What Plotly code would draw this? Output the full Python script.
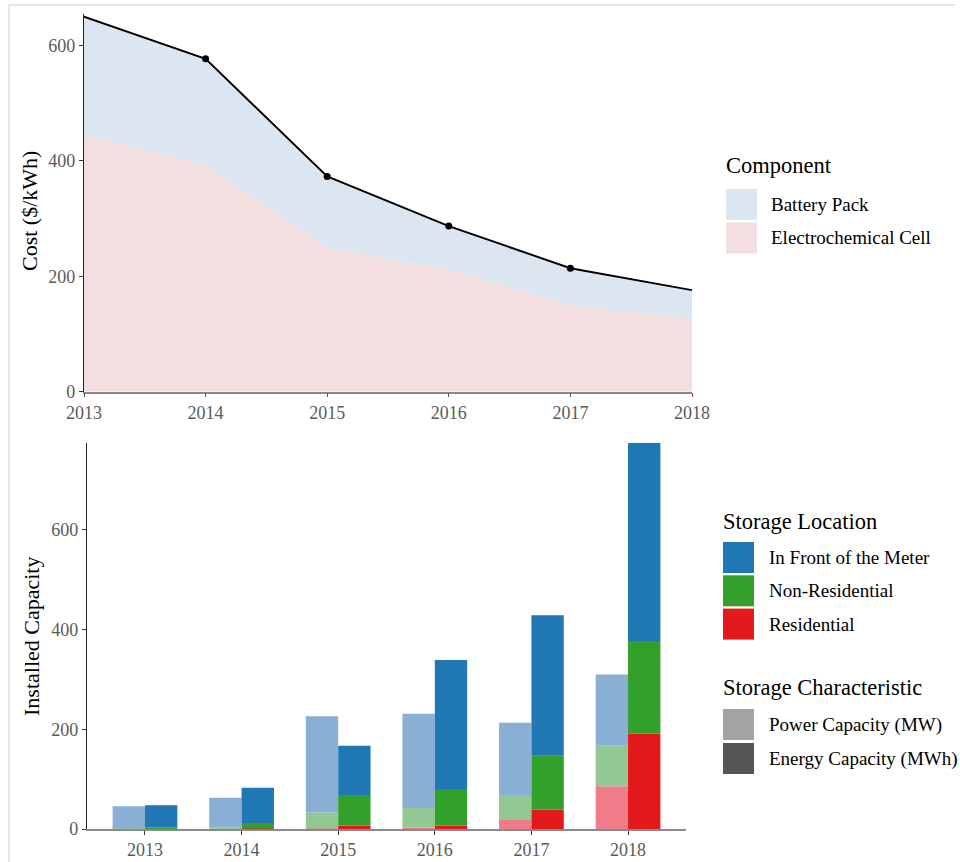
import plotly.graph_objects as go

# ---- Battery cost by component ($/kWh) ----
cost_years = [2013, 2014, 2015, 2016, 2017, 2018]
cell_cost = [445, 392, 250, 211, 150, 126]
pack_cost = [205, 185, 123, 76, 64, 50]
marker_years = [2014, 2015, 2016, 2017]

# ---- Installed storage capacity ----
cap_years = ["2013", "2014", "2015", "2016", "2017", "2018"]
power_res = [0.5, 0.5, 1, 3, 18, 86]
power_nonres = [1, 2, 32, 39, 50, 81]
power_ftm = [44, 60, 193, 189, 145, 143]
energy_res = [0.5, 1, 7, 7, 39, 191]
energy_nonres = [3, 11, 61, 73, 108, 186]
energy_ftm = [44, 71, 99, 259, 282, 398]

locations = ["In Front of the Meter", "Non-Residential", "Residential"]
characteristics = ["Power Capacity (MW)", "Energy Capacity (MWh)"]

# colours
PACK_COL = "#dce6f0"
CELL_COL = "#f4dfe0"
DARK = {"In Front of the Meter": "#1f78b4", "Non-Residential": "#33a02c", "Residential": "#e31a1c"}
LIGHT = {"In Front of the Meter": "#8aafd4", "Non-Residential": "#93c794", "Residential": "#ef7c88"}
CHAR_COL = {"Power Capacity (MW)": "#a3a3a3", "Energy Capacity (MWh)": "#555555"}

FONT = "Liberation Serif"
W, H = 960, 862


def px(x):
    return x / W


def py(y):
    return 1 - y / H


total_cost = [c + p for c, p in zip(cell_cost, pack_cost)]
marker_cost = [total_cost[cost_years.index(y)] for y in marker_years]

fig = go.Figure()

# stacked areas: cell at the bottom, pack on top
fig.add_trace(go.Scatter(x=cost_years, y=cell_cost, stackgroup="cost", mode="none",
                         fillcolor=CELL_COL, name="Electrochemical Cell",
                         showlegend=False, xaxis="x", yaxis="y"))
fig.add_trace(go.Scatter(x=cost_years, y=pack_cost, stackgroup="cost", mode="none",
                         fillcolor=PACK_COL, name="Battery Pack",
                         showlegend=False, xaxis="x", yaxis="y"))
fig.add_trace(go.Scatter(x=cost_years, y=total_cost, mode="lines",
                         line=dict(color="black", width=1.9),
                         showlegend=False, xaxis="x", yaxis="y"))
fig.add_trace(go.Scatter(x=marker_years, y=marker_cost, mode="markers",
                         marker=dict(color="black", size=7),
                         showlegend=False, xaxis="x", yaxis="y", cliponaxis=False))

# dodged + stacked bars
BAR_W = 0.335
groups = [
    ("Power Capacity (MW)", -BAR_W, LIGHT,
     {"Residential": power_res, "Non-Residential": power_nonres, "In Front of the Meter": power_ftm}),
    ("Energy Capacity (MWh)", 0.0, DARK,
     {"Residential": energy_res, "Non-Residential": energy_nonres, "In Front of the Meter": energy_ftm}),
]
for char, offset, palette, series in groups:
    base = [0.0] * len(cap_years)
    for loc in ["Residential", "Non-Residential", "In Front of the Meter"]:
        vals = series[loc]
        fig.add_trace(go.Bar(x=cap_years, y=vals, base=base[:], offset=offset, width=BAR_W,
                             marker=dict(color=palette[loc], line=dict(width=0)),
                             name=f"{loc} - {char}", showlegend=False,
                             xaxis="x2", yaxis="y2"))
        base = [b + v for b, v in zip(base, vals)]

tick_font = dict(family=FONT, size=18, color="#5a5a5a")

# panel geometry
top_y0, top_y1 = 391.7, 13.8
bot_y0, bot_y1 = 829, 442.7

fig.update_layout(
    width=W, height=H,
    margin=dict(l=0, r=0, t=0, b=0),
    paper_bgcolor="white", plot_bgcolor="white",
    barmode="overlay",
    font=dict(family=FONT, color="black"),
    xaxis=dict(domain=[px(84), px(692)], range=[2013, 2018], tickvals=cost_years,
               showgrid=False, zeroline=False, showline=True, linecolor="#8a8a8a", linewidth=1.5,
               ticks="outside", ticklen=4, tickcolor="#555555", tickfont=tick_font,
               anchor="y", automargin=False),
    yaxis=dict(domain=[py(top_y0), py(top_y1)], range=[0, 655], tickvals=[0, 200, 400, 600],
               showgrid=False, zeroline=False, showline=True, linecolor="#222222", linewidth=1.3,
               ticks="outside", ticklen=4, tickcolor="#333333", tickfont=tick_font,
               anchor="x", automargin=False),
    xaxis2=dict(domain=[px(87), px(686)], range=[-0.6, 5.6], type="category",
                showgrid=False, zeroline=False, showline=True, linecolor="#8a8a8a", linewidth=1.5,
                ticks="outside", ticklen=4, tickcolor="#333333", tickfont=tick_font,
                anchor="y2", automargin=False),
    yaxis2=dict(domain=[py(bot_y0), py(bot_y1)], range=[0, 775], tickvals=[0, 200, 400, 600],
                showgrid=False, zeroline=False, showline=True, linecolor="#222222", linewidth=1.3,
                ticks="outside", ticklen=4, tickcolor="#333333", tickfont=tick_font,
                anchor="x2", automargin=False),
)

shapes = []
annotations = []

# axis titles
annotations.append(dict(text="Cost ($/kWh)", x=px(29), y=py(211), xref="paper", yref="paper",
                        textangle=-90, showarrow=False, font=dict(family=FONT, size=22, color="black"),
                        xanchor="center", yanchor="middle"))
annotations.append(dict(text="Installed Capacity", x=px(31), y=py(637), xref="paper", yref="paper",
                        textangle=-90, showarrow=False, font=dict(family=FONT, size=22, color="black"),
                        xanchor="center", yanchor="middle"))


def legend_block(title, title_y, items, x0=724, text_x=768, sw=31, first_top=None, step=33.5):
    annotations.append(dict(text=title, x=px(x0 - 2), y=py(title_y), xref="paper", yref="paper",
                            showarrow=False, xanchor="left", yanchor="middle",
                            font=dict(family=FONT, size=22.5, color="black")))
    top = first_top
    for label, col in items:
        shapes.append(dict(type="rect", xref="paper", yref="paper",
                           x0=px(x0), x1=px(x0 + sw), y0=py(top + sw), y1=py(top),
                           fillcolor=col, line=dict(width=0)))
        annotations.append(dict(text=label, x=px(text_x), y=py(top + sw / 2), xref="paper", yref="paper",
                                showarrow=False, xanchor="left", yanchor="middle",
                                font=dict(family=FONT, size=19, color="black")))
        top += step


legend_block("Component", 165, [("Battery Pack", PACK_COL), ("Electrochemical Cell", CELL_COL)],
             x0=726, text_x=769, first_top=189, step=33.5)
legend_block("Storage Location", 521, [(loc, DARK[loc]) for loc in locations],
             x0=723, text_x=767, first_top=542, step=33.3)
legend_block("Storage Characteristic", 687, [(c, CHAR_COL[c]) for c in characteristics],
             x0=723, text_x=767, first_top=709, step=34)

# thin frame around the figure
shapes.append(dict(type="line", xref="paper", yref="paper", x0=px(9), x1=px(955), y0=py(5), y1=py(5),
                   line=dict(color="#dddddd", width=1.5)))
shapes.append(dict(type="line", xref="paper", yref="paper", x0=px(9), x1=px(9), y0=py(5), y1=0,
                   line=dict(color="#dddddd", width=1.5)))

fig.update_layout(shapes=shapes, annotations=annotations)

fig.write_html("out.html")
